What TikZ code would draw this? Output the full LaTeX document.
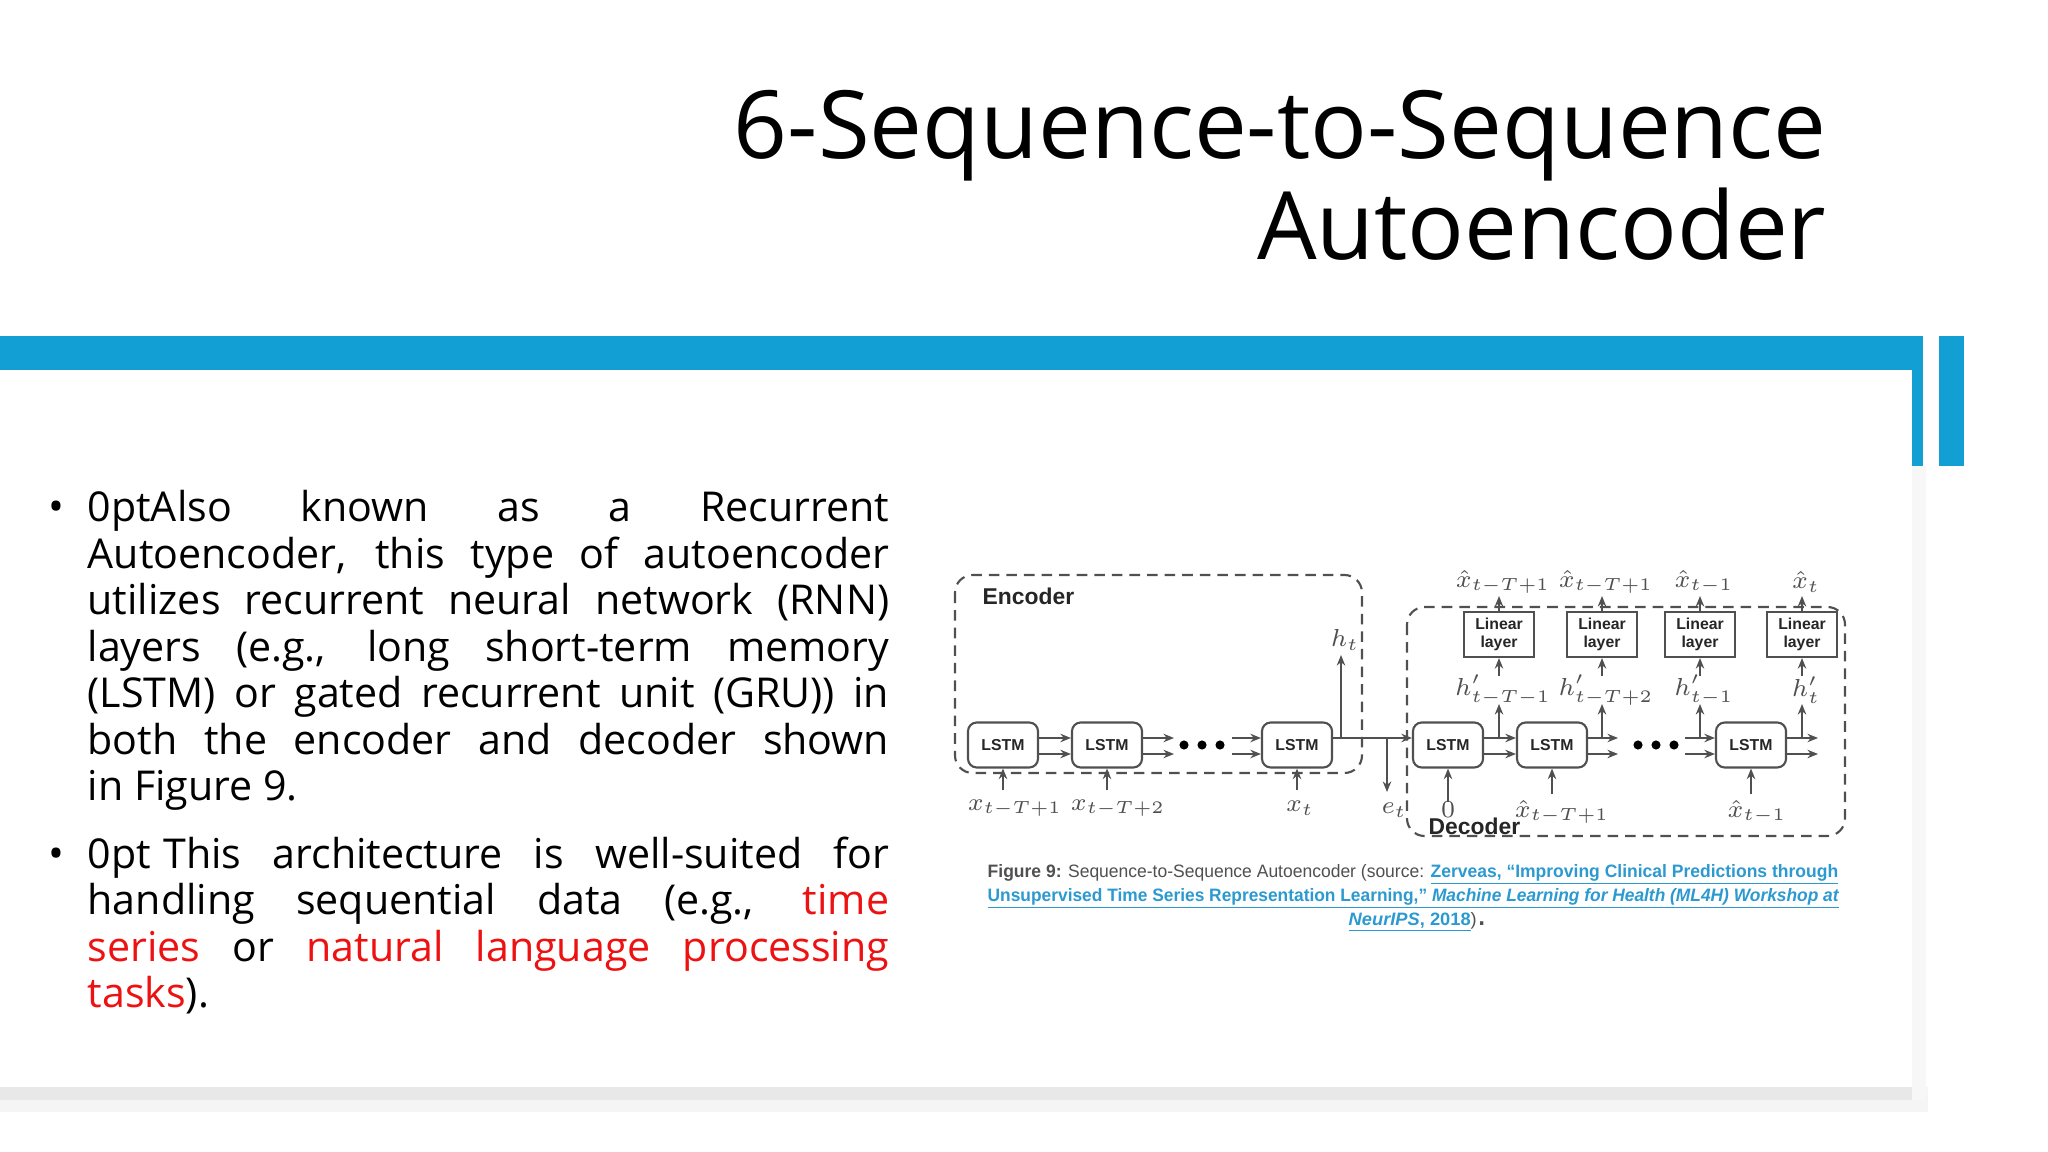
\documentclass[tikz,border=0pt]{standalone}
\usepackage{fontspec}
\setmainfont{Open Sans}
\newfontfamily\capfont{Liberation Sans}
\newcommand{\myul}[1]{\underline{#1}}
\usetikzlibrary{arrows.meta}
\definecolor{barblue}{HTML}{129FD3}
\definecolor{capblue}{HTML}{2C9AD0}
\definecolor{figgray}{HTML}{505050}
\definecolor{txtred}{HTML}{EE1111}
\begin{document}
\begin{tikzpicture}[x=0.01cm,y=-0.01cm,
  arr/.style={-{Stealth[length=3pt,width=2.4pt]},line width=0.5pt,draw=figgray},
  lstm/.style={draw=figgray,line width=0.6pt,rounded corners=2.5pt,minimum width=0.7cm,minimum height=0.45cm,inner sep=0pt,font=\capfont\bfseries\fontsize{4.5}{5}\selectfont,text=black!85},
  lin/.style={draw=figgray,line width=0.6pt,minimum width=0.7cm,minimum height=0.45cm,inner sep=0pt,align=center,font=\capfont\bfseries\fontsize{4.5}{5.3}\selectfont,text=black!85},
  lab/.style={inner sep=0pt,text=figgray,font=\fontsize{7}{8}\selectfont},
  dbox/.style={draw=figgray,dashed,line width=0.6pt,dash pattern=on 3pt off 2pt,rounded corners=5pt},
  dot/.style={circle,fill=black,inner sep=0pt,minimum size=2.6pt},
  body/.style={anchor=north west,inner sep=0pt,text width=8.01cm,align=justify,font=\fontsize{11.7}{13.2}\selectfont\hyphenpenalty=10000\exhyphenpenalty=10000},
  capl/.style={inner sep=0pt,anchor=base west,font=\capfont,text=figgray}]
\useasboundingbox (0,0) rectangle (2048,1152);
% page and shadow
\fill[black!4] (0,1087) rectangle (1928,1112);
\fill[black!9] (0,1087) rectangle (1916,1100);
\fill[black!3] (1912,466) rectangle (1926,1100);
\fill[white] (0,374) rectangle (1912,1087);
% blue bars
\fill[barblue] (0,336) rectangle (1923,370);
\fill[barblue] (1912,336) rectangle (1923,466);
\fill[barblue] (1939,336) rectangle (1964,466);
% title
\node[anchor=base east,inner sep=0pt,align=right,font=\fontsize{26.8}{28.8}\selectfont] (title) at (1827,260) {6-Sequence-to-Sequence\\Autoencoder};
% body text
\node[body] (p1) at (87,490)
 {Also known as a Recurrent\linebreak Autoencoder, this type of autoencoder\linebreak utilizes recurrent neural network (RNN)\linebreak layers (e.g., long short-term memory\linebreak (LSTM) or gated recurrent unit (GRU)) in\linebreak both the encoder and decoder shown\linebreak in Figure 9.};
\node[body] (p2) at (87,836)
 {\hspace*{0.3em}This architecture is well-suited for\linebreak handling sequential data (e.g., \textcolor{txtred}{time}\linebreak \textcolor{txtred}{series} or \textcolor{txtred}{natural language processing}\linebreak \textcolor{txtred}{tasks}).};
\node[anchor=base west,inner sep=0pt,font=\fontsize{12}{12}\selectfont] (b1) at (48,522) {•};
\node[anchor=base west,inner sep=0pt,font=\fontsize{12}{12}\selectfont] (b2) at (48,868) {•};
% ---------- figure ----------
\draw[dbox] (955,575) rectangle (1362,773);
\draw[dbox] (1407,607) rectangle (1845,836);
\node[anchor=base west,inner sep=0pt,font=\capfont\bfseries\fontsize{6.5}{7}\selectfont,text=black!85] (enc) at (982,604) {Encoder};
\node[anchor=base west,inner sep=0pt,font=\capfont\bfseries\fontsize{6.5}{7}\selectfont,text=black!85] (dec) at (1428,834) {Decoder};
% encoder LSTMs
\node[lstm] (e1) at (1003,745) {LSTM};
\node[lstm] (e2) at (1107,745) {LSTM};
\node[lstm] (e3) at (1297,745) {LSTM};
\draw[arr] ([yshift=0.07cm]e1.east) -- ([yshift=0.07cm]e2.west);
\draw[arr] ([yshift=-0.09cm]e1.east) -- ([yshift=-0.09cm]e2.west);
\coordinate (ea1) at (1174,738); \coordinate (ea2) at (1174,754);
\coordinate (eb1) at (1232,738); \coordinate (eb2) at (1232,754);
\draw[arr] ([yshift=0.07cm]e2.east) -- (ea1);
\draw[arr] ([yshift=-0.09cm]e2.east) -- (ea2);
\draw[arr] (eb1) -- ([yshift=0.07cm]e3.west);
\draw[arr] (eb2) -- ([yshift=-0.09cm]e3.west);
\node[dot] (ed1) at (1184,745) {}; \node[dot] (ed2) at (1202,745) {}; \node[dot] (ed3) at (1220,745) {};
% inputs encoder
\node[lab] (x1) at (1015,808) {$x_{t-T+1}$};
\node[lab] (x2) at (1118,808) {$x_{t-T+2}$};
\node[lab] (x3) at (1300,808) {$x_t$};
\draw[arr] (e1.south |- 0,790) -- (e1.south);
\draw[arr] (e2.south |- 0,790) -- (e2.south);
\draw[arr] (e3.south |- 0,790) -- (e3.south);
% decoder LSTMs
\node[lstm] (d1) at (1448,745) {LSTM};
\node[lstm] (d2) at (1552,745) {LSTM};
\node[lstm] (d3) at (1751,745) {LSTM};
\draw[arr] ([yshift=0.07cm]e3.east) -- ([yshift=0.07cm]d1.west);
\coordinate (ht) at (1341,738); \coordinate (et) at (1387,738);
\node[lab] (htl) at (1345,640) {$h_t$};
\node[lab] (etl) at (1394,810) {$e_t$};
\draw[arr] (ht) -- (1341,655);
\draw[arr] (et) -- (1387,792);
\draw[arr] ([yshift=0.07cm]d1.east) -- ([yshift=0.07cm]d2.west);
\draw[arr] ([yshift=-0.09cm]d1.east) -- ([yshift=-0.09cm]d2.west);
\coordinate (da1) at (1618,738); \coordinate (da2) at (1618,754);
\coordinate (db1) at (1685,738); \coordinate (db2) at (1685,754);
\coordinate (dc1) at (1818,738); \coordinate (dc2) at (1818,754);
\draw[arr] ([yshift=0.07cm]d2.east) -- (da1);
\draw[arr] ([yshift=-0.09cm]d2.east) -- (da2);
\draw[arr] (db1) -- ([yshift=0.07cm]d3.west);
\draw[arr] (db2) -- ([yshift=-0.09cm]d3.west);
\draw[arr] ([yshift=0.07cm]d3.east) -- (dc1);
\draw[arr] ([yshift=-0.09cm]d3.east) -- (dc2);
\node[dot] (dd1) at (1638,745) {}; \node[dot] (dd2) at (1656,745) {}; \node[dot] (dd3) at (1674,745) {};
% decoder inputs
\node[lab] (z0) at (1448,810) {$0$};
\node[lab] (z2) at (1562,812) {$\hat{x}_{t-T+1}$};
\node[lab] (z3) at (1757,812) {$\hat{x}_{t-1}$};
\draw[arr] (d1.south |- 0,802) -- (d1.south);
\draw[arr] (d2.south |- 0,794) -- (d2.south);
\draw[arr] (d3.south |- 0,794) -- (d3.south);
% linear layers
\foreach \i/\x/\h/\o in {1/1499/{h'_{t-T-1}}/{\hat{x}_{t-T+1}},2/1602/{h'_{t-T+2}}/{\hat{x}_{t-T+1}},3/1700/{h'_{t-1}}/{\hat{x}_{t-1}},4/1802/{h'_t}/{\hat{x}_t}}{
  \node[lin] (l\i) at (\x,634.5) {Linear\\layer};
  \coordinate (t\i) at (\x,738);
  \node[lab] (h\i) at (\x+4,690) {$\h$};
  \node[lab] (o\i) at (\x+4,582) {$\o$};
  \draw[arr] (t\i) -- (\x,704);
  \draw[arr] (\x,676) -- (l\i.south);
  \draw[arr] (l\i.north) -- (\x,596);
}
% caption
\node[capl] (c1) at (987,877) {\resizebox{8.5cm}{0.13cm}{\textbf{Figure 9:} Sequence-to-Sequence Autoencoder (source: \textcolor{capblue}{\textbf{\myul{Zerveas, “Improving Clinical Predictions through}}}}};
\node[capl] (c2) at (987,901) {\resizebox{8.51cm}{0.13cm}{\textcolor{capblue}{\textbf{\myul{Unsupervised Time Series Representation Learning,” \textit{Machine Learning for Health (ML4H) Workshop at}}}}}};
\node[capl] (c3) at (1348,925) {\resizebox{1.28cm}{0.13cm}{\textcolor{capblue}{\textbf{\myul{\textit{NeurIPS}, 2018}}})}.};
\end{tikzpicture}
\end{document}
